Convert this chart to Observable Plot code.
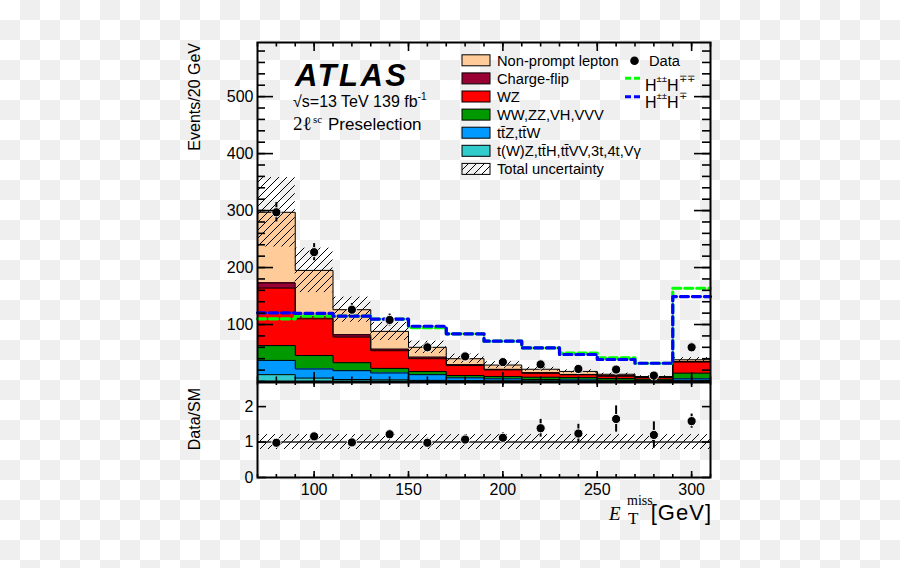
<!DOCTYPE html>
<html><head><meta charset="utf-8">
<script src="https://cdn.jsdelivr.net/npm/d3@7"></script>
<script src="https://cdn.jsdelivr.net/npm/@observablehq/plot@0.6"></script>
<style>
html,body{margin:0;padding:0;}
body{width:900px;height:568px;overflow:hidden;background:#fff repeating-conic-gradient(#efefef 0 25%, #fff 0 50%) 0 0/40px 40px;}
#wrap{position:relative;width:900px;height:568px;font-family:"Liberation Sans",Arial,sans-serif;}
</style></head><body>
<svg width="0" height="0" style="position:absolute">
<defs>
<pattern id="hatch" patternUnits="userSpaceOnUse" width="8" height="8">
<path d="M-2,2 L2,-2 M0,8 L8,0 M6,10 L10,6" stroke="#000" stroke-width="1"/>
</pattern></defs></svg>
<div id="wrap"></div>
<script>
// ---------------- data ----------------
const binLow    = [70, 90, 110, 130, 150, 170, 190, 210, 230, 250, 270, 290];
const binHigh   = [90, 110, 130, 150, 170, 190, 210, 230, 250, 270, 290, 310];
const binCenter = [80, 100, 120, 140, 160, 180, 200, 220, 240, 260, 280, 300];

// stack order bottom -> top
const bkgNames  = ["t(W)Z,tt\u0304H,tt\u0304VV,3t,4t,V\u03b3", "tt\u0304Z,tt\u0304W", "WW,ZZ,VH,VVV", "WZ", "Charge-flip", "Non-prompt lepton"];
const bkgColors = ["#33cccc", "#0099ff", "#009900", "#ff0000", "#990033", "#ffcc99"];
const tVX        = [12, 6, 3.5, 3, 2, 1.5, 1.2, 1, 0.8, 0.6, 0.5, 2];
const ttV        = [25, 16, 15.5, 12, 10, 5, 3.5, 2.5, 2, 1.5, 1, 2.7];
const diboson    = [26, 23.6, 14, 8, 5.5, 4, 4, 4, 4, 3, 2.5, 10];
const wz         = [101, 64.4, 45, 31, 22.5, 17.5, 11.7, 7, 5, 4.3, 3, 19.4];
const chargeFlip = [9, 4.6, 4, 3, 3, 1.5, 1, 0.8, 0.6, 0.5, 0.4, 1];
const nonPrompt  = [124, 80.4, 44, 31, 17, 10.5, 7.5, 6.2, 5.3, 2.8, 1.4, 3];
const relUnc     = [0.205, 0.2, 0.175, 0.18, 0.18, 0.2, 0.2, 0.16, 0.16, 0.15, 0.15, 0.1];

const dataVal = [297, 227, 126, 108, 60, 44, 34, 30, 22, 21, 10.5, 60];
const dataErr = [17, 15, 11, 10.4, 7.7, 6.6, 5.8, 5.5, 4.7, 4.6, 3.2, 7.7];

const sigColors = ["#00ff00", "#0000ff"];
const sigHHpp   = [110, 114.6, 114.6, 109.5, 94.5, 83.6, 70.8, 59, 50, 41.6, 32, 163.7];
const sigHHp    = [120.5, 119.5, 114.6, 109.5, 97, 83.6, 70.8, 59, 47.4, 38.6, 32, 149];

const ratioVal = [0.98, 1.16, 0.99, 1.22, 0.98, 1.07, 1.12, 1.39, 1.24, 1.65, 1.2, 1.59];
const ratioErr = [0.06, 0.08, 0.09, 0.12, 0.13, 0.13, 0.14, 0.25, 0.26, 0.37, 0.37, 0.2];
const ratioUnc = [0.21, 0.21, 0.21, 0.21, 0.21, 0.21, 0.21, 0.21, 0.21, 0.21, 0.21, 0.21];

const yMainLabels  = [100, 200, 300, 400, 500];
const yRatioLabels = [0, 1, 2];
const xLabels      = [100, 150, 200, 250, 300];

// ---------------- derived tables ----------------
const comps = [tVX, ttV, diboson, wz, chargeFlip, nonPrompt];
const stackRows = [], outlineRows = [];
const cum = binLow.map(() => 0);
comps.forEach((vals, k) => {
  binLow.forEach((lo, i) => {
    const y1 = cum[i], y2 = cum[i] + vals[i];
    stackRows.push({lo, hi: binHigh[i], y1, y2, proc: bkgNames[k]});
    cum[i] = y2;
  });
  binLow.forEach((lo, i) => outlineRows.push({x: lo, y: cum[i], k}));
  outlineRows.push({x: binHigh[binHigh.length - 1], y: cum[cum.length - 1], k});
});
const bins = binLow.map((lo, i) => ({
  lo, hi: binHigh[i], c: binCenter[i], tot: cum[i], u: relUnc[i],
  d: dataVal[i], e: dataErr[i], r: ratioVal[i], re: ratioErr[i], ru: ratioUnc[i]
}));
const stepRows = vals => binLow.map((lo, i) => ({x: lo, y: vals[i]}))
  .concat([{x: binHigh[binHigh.length - 1], y: vals[vals.length - 1]}]);

const W = 900, ML = 257, MR = 190;
const IW = W - ML - MR;              // 453
const MT = 42, MAINH = 381;
const IH = MAINH - MT;               // 339
const font = "'Liberation Sans', Arial, sans-serif";
const wrap = document.getElementById("wrap");
const xMinor = d3.range(70, 311, 10);
const yMinor = d3.range(0, 595, 20);

// ---------------- main panel ----------------
const main = Plot.plot({
  width: W, height: MAINH,
  marginLeft: ML, marginRight: MR, marginTop: MT, marginBottom: 0,
  style: {background: "transparent", fontFamily: font, fontSize: "16px", overflow: "visible"},
  x: {domain: [70, 310], axis: null},
  y: {domain: [0, 595], axis: null},
  color: {domain: bkgNames, range: bkgColors},
  marks: [
    Plot.rect(stackRows, {x1: "lo", x2: "hi", y1: "y1", y2: "y2", fill: "proc", shapeRendering: "crispEdges"}),
    Plot.line(outlineRows, {x: "x", y: "y", z: "k", curve: "step-after", stroke: "black", strokeWidth: 1}),
    Plot.rect(bins, {x1: "lo", x2: "hi", y1: d => d.tot * (1 - d.u), y2: d => d.tot * (1 + d.u), fill: "url(#hatch)"}),
    Plot.line(stepRows(sigHHpp), {x: "x", y: "y", curve: "step-after", stroke: sigColors[0], strokeWidth: 3.2, strokeDasharray: "8,4"}),
    Plot.line(stepRows(sigHHp), {x: "x", y: "y", curve: "step-after", stroke: sigColors[1], strokeWidth: 3.2, strokeDasharray: "8,4"}),
    Plot.ruleX(bins, {x: "c", y1: d => d.d - d.e, y2: d => d.d + d.e, stroke: "black", strokeWidth: 2}),
    Plot.dot(bins, {x: "c", y: "d", r: 4.6, fill: "black", stroke: "white", strokeWidth: 1}),
    // ticks (inside the frame, ROOT style)
    Plot.tickY(yMinor, {y: d => d, insetRight: IW - 8, stroke: "black", strokeWidth: 1.6}),
    Plot.tickY(yMinor, {y: d => d, insetLeft: IW - 8, stroke: "black", strokeWidth: 1.6}),
    Plot.tickY(yMainLabels, {y: d => d, insetRight: IW - 16, stroke: "black", strokeWidth: 1.6}),
    Plot.tickY(yMainLabels, {y: d => d, insetLeft: IW - 16, stroke: "black", strokeWidth: 1.6}),
    Plot.tickX(xMinor, {x: d => d, insetTop: IH - 4.5, stroke: "black", strokeWidth: 1.6}),
    Plot.tickX(xMinor, {x: d => d, insetBottom: IH - 4.5, stroke: "black", strokeWidth: 1.6}),
    Plot.tickX(xLabels, {x: d => d, insetTop: IH - 9, stroke: "black", strokeWidth: 1.6}),
    Plot.tickX(xLabels, {x: d => d, insetBottom: IH - 9, stroke: "black", strokeWidth: 1.6}),
    Plot.text(yMainLabels, {y: d => d, text: d => String(d), frameAnchor: "left", textAnchor: "end", dx: -4, fontSize: 16, fill: "black"}),
    Plot.frame({stroke: "black", strokeWidth: 2})
  ]
});
main.style.position = "absolute"; main.style.left = "0px"; main.style.top = "0px";
wrap.appendChild(main);

// ---------------- ratio panel ----------------
const RT = 381, RH = 187, RMT = 1, RMB = 91;
const RIH = RH - RMT - RMB;
const ratio = Plot.plot({
  width: W, height: RH,
  marginLeft: ML, marginRight: MR, marginTop: RMT, marginBottom: RMB,
  style: {background: "transparent", fontFamily: font, fontSize: "16px", overflow: "visible"},
  x: {domain: [70, 310], axis: null},
  y: {domain: [0, 2.68], axis: null},
  marks: [
    Plot.rect(bins, {x1: "lo", x2: "hi", y1: d => 1 - d.ru, y2: d => 1 + d.ru, fill: "url(#hatch)"}),
    Plot.ruleY([1], {stroke: "#222", strokeWidth: 1.5}),
    Plot.ruleX(bins, {x: "c", y1: d => d.r - d.re, y2: d => d.r + d.re, stroke: "black", strokeWidth: 2}),
    Plot.dot(bins, {x: "c", y: "r", r: 4.6, fill: "black", stroke: "white", strokeWidth: 1}),
    Plot.tickY(yRatioLabels, {y: d => d, insetRight: IW - 9, stroke: "black", strokeWidth: 1.6}),
    Plot.tickY(yRatioLabels, {y: d => d, insetLeft: IW - 8, stroke: "black", strokeWidth: 1.6}),
    Plot.tickX(xMinor, {x: d => d, insetTop: RIH - 3, stroke: "black", strokeWidth: 1.6}),
    Plot.tickX(xMinor, {x: d => d, insetBottom: RIH - 3, stroke: "black", strokeWidth: 1.6}),
    Plot.tickX(xLabels, {x: d => d, insetTop: RIH - 6, stroke: "black", strokeWidth: 1.6}),
    Plot.tickX(xLabels, {x: d => d, insetBottom: RIH - 5, stroke: "black", strokeWidth: 1.6}),
    Plot.text(yRatioLabels, {y: d => d, text: d => String(d), frameAnchor: "left", textAnchor: "end", dx: -4, fontSize: 16, fill: "black"}),
    Plot.text(xLabels, {x: d => d, text: d => String(d), frameAnchor: "bottom", lineAnchor: "top", dy: 6, fontSize: 16, fill: "black"}),
    Plot.frame({stroke: "black", strokeWidth: 2})
  ]
});
ratio.style.position = "absolute"; ratio.style.left = "0px"; ratio.style.top = RT + "px";
wrap.appendChild(ratio);

// ---------------- labels, legend ----------------
const ov = d3.select("#wrap").append("svg")
  .attr("width", 900).attr("height", 568)
  .style("position", "absolute").style("left", "0px").style("top", "0px")
  .style("font-family", font).style("overflow", "visible");
const serif = "'Liberation Serif', 'Times New Roman', serif";

ov.append("text").attr("x", 295).attr("y", 86).attr("font-size", 31)
  .attr("font-weight", "bold").attr("font-style", "italic").attr("letter-spacing", 2.5).text("ATLAS");
const t2 = ov.append("text").attr("x", 293).attr("y", 107).attr("font-size", 16);
t2.append("tspan").text("\u221as=13 TeV 139 fb");
t2.append("tspan").attr("font-size", 10).attr("dy", -7).text("-1");
const t3 = ov.append("text").attr("y", 130).attr("font-size", 17);
t3.append("tspan").attr("x", 293).attr("font-family", serif).attr("font-size", 19).text("2\u2113");
t3.append("tspan").attr("x", 313).attr("dy", -7).attr("font-family", serif).attr("font-size", 11).text("sc");
t3.append("tspan").attr("x", 328).attr("dy", 7).text("Preselection");

// axis titles
ov.append("text").attr("transform", "translate(200,43) rotate(-90)").attr("text-anchor", "end")
  .attr("font-size", 16).text("Events/20 GeV");
ov.append("text").attr("transform", "translate(200,388) rotate(-90)").attr("text-anchor", "end")
  .attr("font-size", 16).text("Data/SM");
ov.append("text").attr("x", 609).attr("y", 520).attr("font-family", serif).attr("font-style", "italic").attr("font-size", 19).text("E");
ov.append("text").attr("x", 627).attr("y", 505).attr("font-family", serif).attr("font-size", 14).text("miss");
ov.append("text").attr("x", 628).attr("y", 524).attr("font-family", serif).attr("font-size", 17).text("T");
ov.append("text").attr("x", 712).attr("y", 520).attr("text-anchor", "end").attr("font-size", 22).attr("letter-spacing", 1).text("[GeV]");

// legend
const legendItems = bkgNames.map((n, i) => ({label: n, fill: bkgColors[i]})).reverse()
  .concat([{label: "Total uncertainty", fill: "url(#hatch)"}]);
legendItems.forEach((it, i) => {
  const cy = 60.3 + i * 18.1;
  ov.append("rect").attr("x", 462).attr("y", cy - 5.5).attr("width", 28).attr("height", 11)
    .attr("fill", it.fill).attr("stroke", "black").attr("stroke-width", 1);
  ov.append("text").attr("x", 497).attr("y", cy + 5.3).attr("font-size", 14.7).text(it.label);
});
ov.append("circle").attr("cx", 634.5).attr("cy", 60.7).attr("r", 4.3).attr("fill", "black");
ov.append("text").attr("x", 649).attr("y", 66).attr("font-size", 14.7).text("Data");
[[78.3, 91], [96.7, 108]].forEach(([ly, ty], k) => {
  ov.append("line").attr("x1", 625).attr("x2", 641).attr("y1", ly).attr("y2", ly)
    .attr("stroke", sigColors[k]).attr("stroke-width", 3).attr("stroke-dasharray", "6,3");
  const t = ov.append("text").attr("x", 645).attr("y", ty).attr("font-size", 16);
  t.append("tspan").text("H");
  t.append("tspan").attr("font-size", 9.5).attr("dy", -9).text("\u00b1\u00b1");
  t.append("tspan").attr("dy", 9).text("H");
  t.append("tspan").attr("font-size", 9.5).attr("dy", -9).text(k === 0 ? "\u2213\u2213" : "\u2213");
});
</script>
</body></html>
